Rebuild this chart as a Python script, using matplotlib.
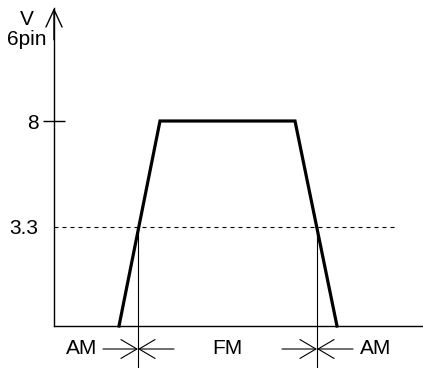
import numpy as np
import matplotlib
matplotlib.use("Agg")
import matplotlib.pyplot as plt

plt.rcParams['font.family'] = ['Liberation Sans', 'DejaVu Sans']

# pulse on pin 6 (time in arbitrary units, voltage in V)
t_pulse = [65, 106, 241, 283]
v_pulse = [0, 8, 8, 0]

# threshold and where it crosses the edges
v_threshold = 3.3
t_switch = [84, 263]

# band labels under the axis
band_names = ["AM", "FM", "AM"]
band_pos = [27.5, 173, 322]

ytick_vals = [8]
ytick_labels = ["8"]

# schematic y scale: 3.3 V and 8 V sit where the drawing puts them
knots_v = np.array([-10, 0, 3.3, 8, 20])
knots_px = np.array([-256.25, 0, 99, 205, 512.5])

def fwd(v):
    return np.interp(v, knots_v, knots_px)

def inv(p):
    return np.interp(p, knots_px, knots_v)

fig = plt.figure(figsize=(4.23, 3.68), dpi=100)
ax = fig.add_axes([54/423, 42/368, 369/423, 318/368])
ax.set_yscale('function', functions=(fwd, inv))
ax.set_xlim(0, 369)
ax.set_ylim(0, inv(318))

for s in ['top', 'right']:
    ax.spines[s].set_visible(False)
ax.spines['left'].set_linewidth(1.0)
ax.spines['bottom'].set_linewidth(1.0)

#arrow at the top of the y axis
ax.annotate("", xy=(0, 1), xytext=(0, 0.9), xycoords='axes fraction',
            arrowprops=dict(arrowstyle='->,head_length=1.25,head_width=0.58',
                            lw=1.0, color='black', shrinkA=0, shrinkB=0),
            annotation_clip=False)

ax.set_xticks([])
ax.set_yticks(ytick_vals)
ax.set_yticklabels(ytick_labels, fontsize=15)
ax.set_yticks([v_threshold], minor=True)
ax.set_yticklabels([str(v_threshold)], minor=True, fontsize=15)
ax.tick_params(axis='y', which='major', direction='inout', length=16, width=1.0, pad=3)
ax.tick_params(axis='y', which='minor', length=0, pad=11)

ax.text(-27/369, 1 - 2/318, "V\n6pin", transform=ax.transAxes, fontsize=15,
        ha='center', va='top', linespacing=1.05)

# the pulse
ax.plot(t_pulse, v_pulse, color='black', lw=2.3, solid_joinstyle='miter', clip_on=False)

# threshold line
ax.plot([0, 341], [v_threshold, v_threshold], color='black', lw=0.8,
        dashes=(3.6, 3.6))

# switch lines from threshold down below the axis
for t in t_switch:
    ax.plot([t, t], [v_threshold, -1.8], color='black', lw=0.8, clip_on=False)

# arrows meeting at each switch point
trans = ax.get_xaxis_transform()
yrow = -23/318
for t in t_switch:
    for start in [t - 35, t + 36]:
        ax.annotate("", xy=(t, yrow), xytext=(start, yrow), xycoords=trans,
                    arrowprops=dict(arrowstyle='->,head_length=1.15,head_width=0.68',
                                    lw=0.8, color='black', shrinkA=0, shrinkB=0),
                    annotation_clip=False)

for name, x in zip(band_names, band_pos):
    ax.text(x, yrow, name, transform=trans, fontsize=15, ha='center', va='center')

fig.savefig("out.png", dpi=100)
